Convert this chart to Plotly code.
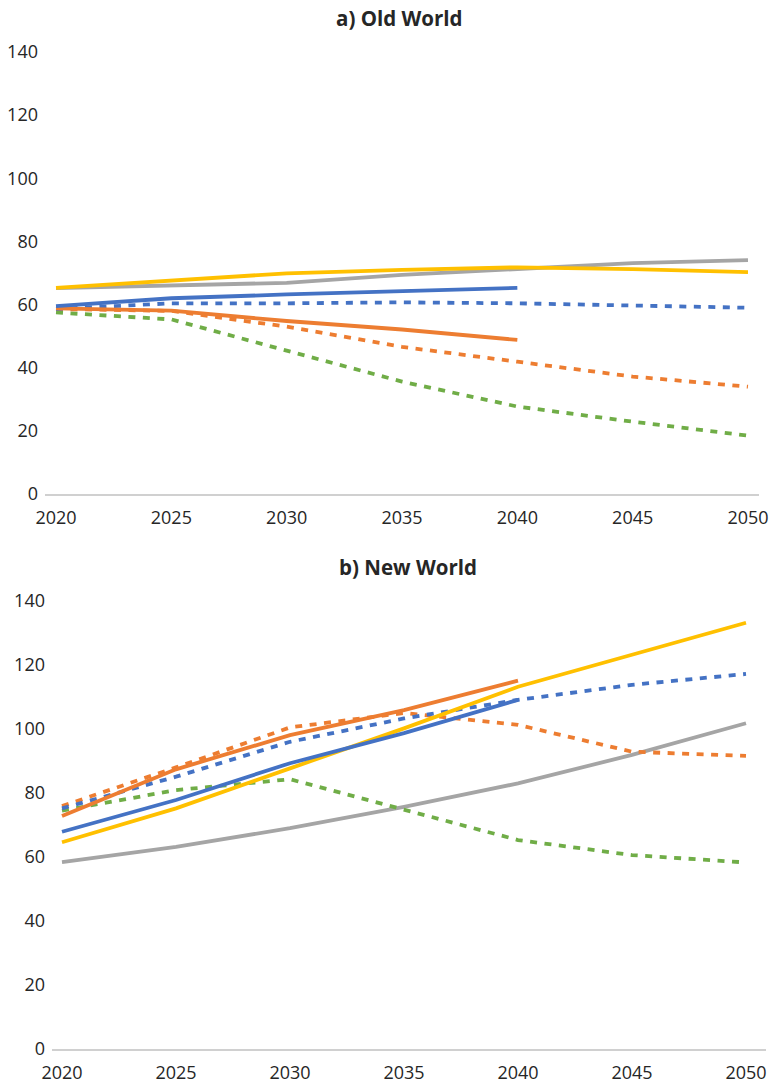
import plotly.graph_objects as go

W, H = 778, 1083
years = [2020, 2025, 2030, 2035, 2040, 2045, 2050]
years_to_2040 = [2020, 2025, 2030, 2035, 2040]
y_ticks = [0, 20, 40, 60, 80, 100, 120, 140]
x_ticks = [2020, 2025, 2030, 2035, 2040, 2045, 2050]

# a) Old World
old_blue_solid = [59.5, 62.0, 63.2, 64.1, 65.3]
old_blue_dot = [58.6, 60.4, 60.4, 60.7, 60.4, 59.6, 59.0]
old_orange_solid = [58.8, 58.1, 54.8, 52.1, 48.8]
old_orange_dot = [58.6, 58.0, 53.0, 46.6, 41.9, 37.2, 34.0]
old_gray = [65.2, 65.9, 66.9, 69.4, 71.2, 73.1, 74.1]
old_yellow = [65.3, 67.6, 69.9, 71.0, 71.8, 71.2, 70.3]
old_green_dot = [57.5, 55.3, 45.4, 35.6, 27.7, 22.9, 18.5]

# b) New World
new_blue_solid = [67.9, 77.8, 89.3, 98.7, 109.1]
new_blue_dot = [75.2, 85.1, 96.0, 103.3, 109.1, 113.8, 117.2]
new_orange_solid = [72.8, 87.4, 98.1, 105.9, 115.1]
new_orange_dot = [75.9, 88.0, 100.5, 105.0, 101.3, 92.9, 91.6]
new_gray = [58.4, 63.2, 69.0, 75.7, 83.0, 91.9, 101.8]
new_yellow = [64.6, 75.2, 87.7, 100.2, 113.2, 123.1, 133.2]
new_green_dot = [74.5, 80.9, 84.3, 74.7, 65.3, 60.6, 58.3]

BLUE, ORANGE, GRAY, YELLOW, GREEN = "#4472C4", "#ED7D31", "#A5A5A5", "#FFC000", "#70AD47"
DASH = "7px,7.5px"
LW = 3.8

fig = go.Figure()

def add(x, y, color, dash, axis):
    fig.add_trace(go.Scatter(
        x=x, y=y, mode="lines",
        line=dict(color=color, width=LW, dash=dash),
        xaxis="x" if axis == 1 else "x2",
        yaxis="y" if axis == 1 else "y2",
        showlegend=False, hoverinfo="skip"))

for ax, data in [
    (1, [(years, old_gray, GRAY, "solid"), (years, old_yellow, YELLOW, "solid"),
         (years, old_green_dot, GREEN, DASH), (years, old_orange_dot, ORANGE, DASH),
         (years, old_blue_dot, BLUE, DASH), (years_to_2040, old_orange_solid, ORANGE, "solid"),
         (years_to_2040, old_blue_solid, BLUE, "solid")]),
    (2, [(years, new_gray, GRAY, "solid"), (years, new_green_dot, GREEN, DASH),
         (years, new_orange_dot, ORANGE, DASH), (years, new_blue_dot, BLUE, DASH),
         (years, new_yellow, YELLOW, "solid"), (years_to_2040, new_blue_solid, BLUE, "solid"),
         (years_to_2040, new_orange_solid, ORANGE, "solid")]),
]:
    for x, y, c, d in data:
        add(x, y, c, d, ax)

tickfont = dict(family="Open Sans", size=18, color="#262626")

def px_x(p):
    return p / W

def px_y(p):
    return 1 - p / H

xa_common = dict(tickvals=x_ticks, ticktext=[str(v) for v in x_ticks], showgrid=False,
                 zeroline=False, showline=True, linecolor="#D0D0D0", linewidth=1.5,
                 ticks="", tickfont=tickfont, ticklabelstandoff=7, fixedrange=True,
                 automargin=False)
ya_common = dict(range=[0, 140], tickvals=y_ticks, showgrid=False, zeroline=False,
                 showline=False, ticks="", tickfont=tickfont, ticklabelstandoff=6,
                 fixedrange=True, automargin=False)

# top panel: 2020 at 56px, 2050 at 748px, axis line 45..759
s1 = (748 - 56) / 30
fig.update_layout(
    xaxis=dict(domain=[px_x(45), px_x(759)],
               range=[2020 - (56 - 45) / s1, 2050 + (759 - 748) / s1],
               anchor="y", **xa_common),
    yaxis=dict(domain=[px_y(494), px_y(52)], anchor="x", **ya_common),
)
s2 = (746 - 62) / 30
fig.update_layout(
    xaxis2=dict(domain=[px_x(52), px_x(766)],
                range=[2020 - (62 - 52) / s2, 2050 + (766 - 746) / s2],
                anchor="y2", **xa_common),
    yaxis2=dict(domain=[px_y(1049), px_y(601)], anchor="x2", **ya_common),
)

titlefont = dict(family="Open Sans", size=20.5, color="#262626")
fig.add_annotation(text="<b>a) Old World</b>", x=px_x(399), y=px_y(18), xref="paper",
                   yref="paper", showarrow=False, font=titlefont, xanchor="center", yanchor="middle")
fig.add_annotation(text="<b>b) New World</b>", x=px_x(408), y=px_y(567), xref="paper",
                   yref="paper", showarrow=False, font=titlefont, xanchor="center", yanchor="middle")

fig.update_layout(width=W, height=H, margin=dict(l=0, r=0, t=0, b=0, autoexpand=False),
                  paper_bgcolor="white", plot_bgcolor="white", showlegend=False)

fig.write_html("out.html", config={"displayModeBar": False},
               post_script="document.body.style.margin='0';document.body.style.padding='0';document.body.style.overflow='hidden';")
